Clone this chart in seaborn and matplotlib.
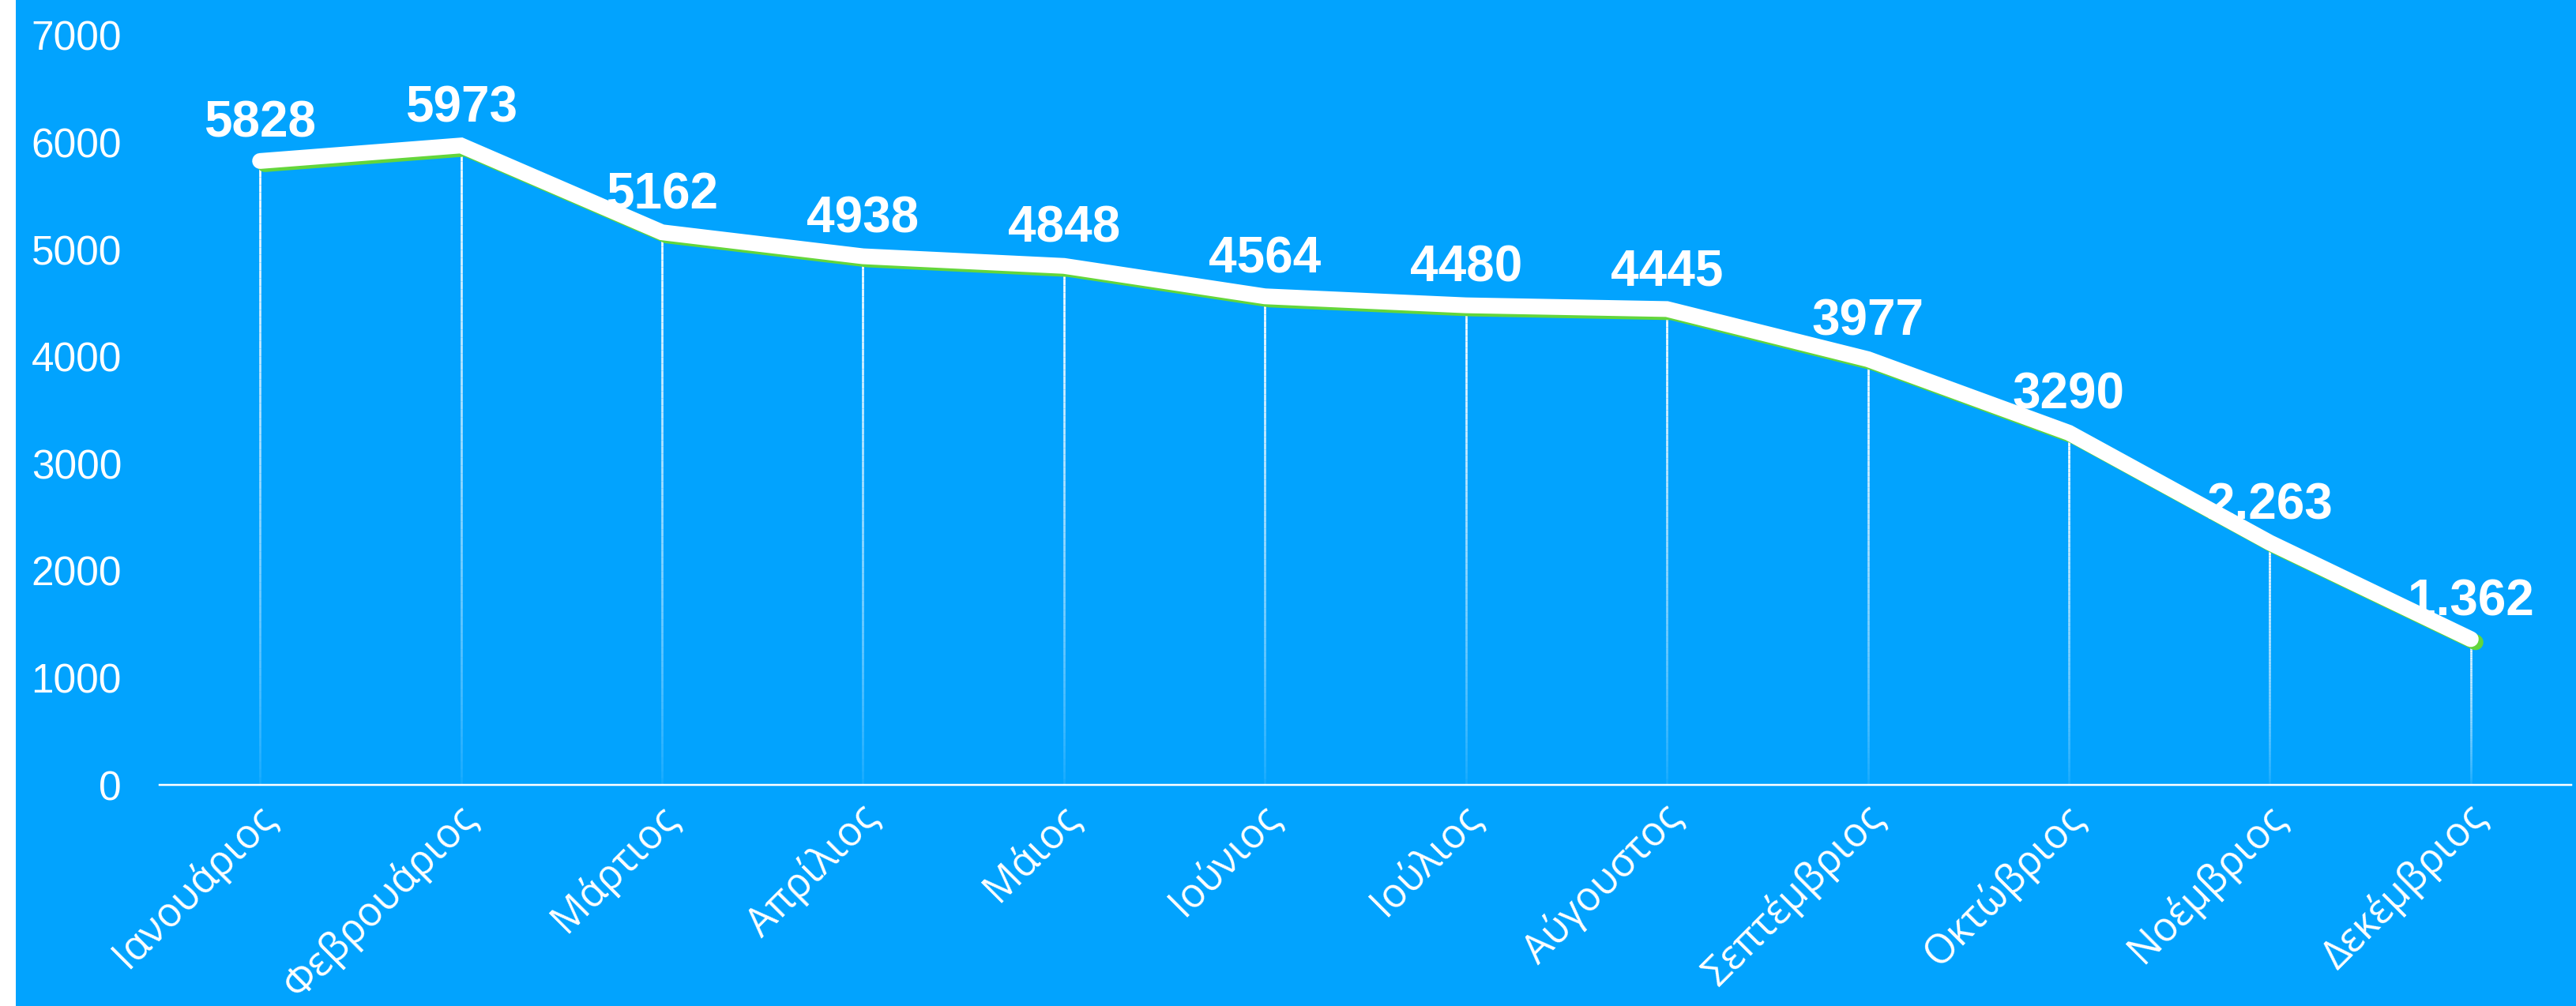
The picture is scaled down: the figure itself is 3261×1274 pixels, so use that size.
import numpy as np
import pandas as pd
import matplotlib
matplotlib.use("Agg")
import matplotlib.pyplot as plt
import seaborn as sns
from matplotlib.transforms import ScaledTranslation
from matplotlib.collections import LineCollection
from matplotlib.patches import Rectangle

# ---- data ----
months = ["Ιανουάριος", "Φεβρουάριος", "Μάρτιος", "Απρίλιος", "Μάιος", "Ιούνιος",
          "Ιούλιος", "Αύγουστος", "Σεπτέμβριος", "Οκτώβριος", "Νοέμβριος", "Δεκέμβριος"]
values = [5828, 5973, 5162, 4938, 4848, 4564, 4480, 4445, 3977, 3290, 2263, 1362]
value_labels = ["5828", "5973", "5162", "4938", "4848", "4564",
                "4480", "4445", "3977", "3290", "2.263", "1.362"]
y_ticks = [0, 1000, 2000, 3000, 4000, 5000, 6000, 7000]

BLUE = "#02A3FE"
GREEN = "#63D63B"
W, H, DPI = 3262, 1274, 100
PX = 72 / DPI  # points per pixel

sns.set_theme(style="white")
plt.rcParams["font.family"] = ["Liberation Sans", "DejaVu Sans"]

fig = plt.figure(figsize=(W / DPI, H / DPI), dpi=DPI, facecolor=BLUE)
fig.patches.append(Rectangle((0, 0), 20 / W, 1, transform=fig.transFigure,
                             facecolor="white", edgecolor="none", zorder=0))
ax = fig.add_axes([202 / W, 280 / H, (3255 - 202) / W, (1229 - 280) / H])
ax.set_facecolor(BLUE)

df = pd.DataFrame({"month": months, "value": values})

# green shadow line and white main line
sns.lineplot(data=df, x="month", y="value", ax=ax, color=GREEN, lw=20 * PX,
             sort=False, zorder=3)
sns.lineplot(data=df, x="month", y="value", ax=ax, color="white", lw=20 * PX,
             sort=False, zorder=4)
shadow, main = ax.lines[0], ax.lines[1]
shadow.set_transform(ax.transData + ScaledTranslation(6 / DPI, -4 / DPI, fig.dpi_scale_trans))
for ln in (shadow, main):
    ln.set_solid_capstyle("round")
    ln.set_solid_joinstyle("miter")

# fading drop lines
n = 80
segs, cols = [], []
for i, v in enumerate(values):
    ys = np.linspace(0, v, n + 1)
    for k in range(n):
        segs.append([(i, ys[k]), (i, ys[k + 1])])
        a = 0.08 + 0.92 * (k / (n - 1)) ** 0.8
        cols.append((1, 1, 1, a))
lc = LineCollection(segs, colors=cols, linewidths=2.7 * PX, zorder=2, capstyle="butt")
ax.add_collection(lc)

# value labels
for i, (v, lab) in enumerate(zip(values, value_labels)):
    ax.annotate(lab, xy=(i, v), xytext=(0, 30 * PX), textcoords="offset points",
                ha="center", va="baseline", color="white", fontsize=46,
                fontweight="bold", zorder=6)

# axes styling
ax.set_xlim(-0.5, len(months) - 0.5)
ax.set_ylim(0, 7000)
ax.set_yticks(y_ticks)
ax.set_xlabel("")
ax.set_ylabel("")
for s in ("left", "top", "right"):
    ax.spines[s].set_visible(False)
ax.spines["bottom"].set_color("white")
ax.spines["bottom"].set_linewidth(2.5 * PX)
ax.grid(False)

ax.tick_params(axis="y", length=0, pad=48 * PX, labelsize=37, labelcolor="white")
ax.tick_params(axis="x", length=0, pad=34 * PX, labelsize=36.5, labelcolor="white")
off = ScaledTranslation(12 / DPI, 0, fig.dpi_scale_trans)
for lab in ax.get_xticklabels():
    lab.set_rotation(45)
    lab.set_ha("right")
    lab.set_va("center")
    lab.set_rotation_mode("anchor")
    lab.set_fontfamily(["Open Sans", "DejaVu Sans"])
    lab.set_transform(lab.get_transform() + off)

fig.savefig("out.png", dpi=DPI, facecolor=BLUE)
